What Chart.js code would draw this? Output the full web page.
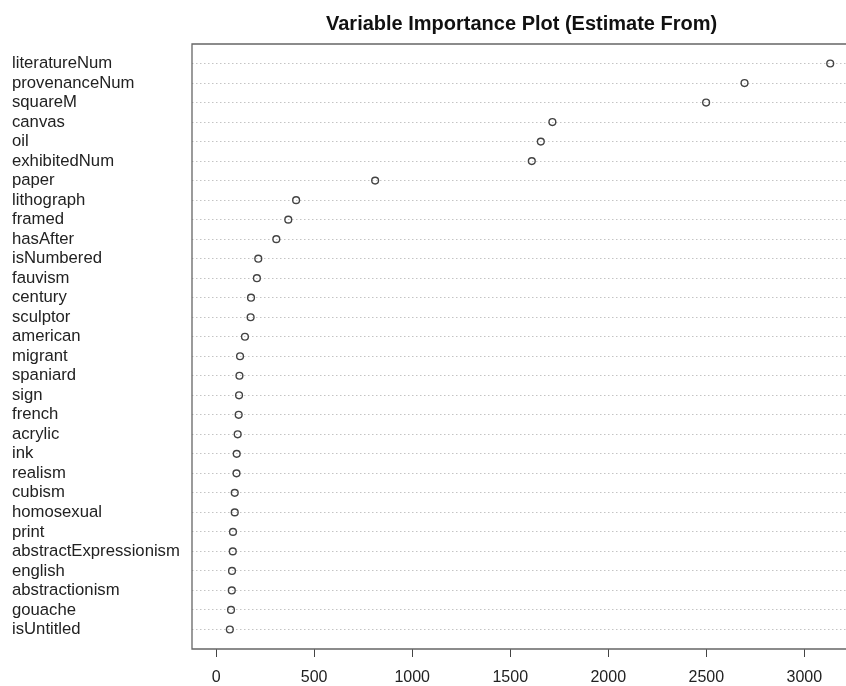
<!DOCTYPE html>
<html>
<head>
<meta charset="utf-8">
<script src="https://cdn.jsdelivr.net/npm/chart.js@4"></script>
<style>
    html, body { margin: 0; padding: 0; background: #fff; overflow: hidden; }
    #wrap { width: 856px; height: 686px; }
</style>
</head>
<body>
<div id="wrap"><canvas id="importanceChart"></canvas></div>
<script>
const chartTitle = "Variable Importance Plot (Estimate From)";

// top to bottom, as in the plot
const variables = [
    "literatureNum", "provenanceNum", "squareM", "canvas", "oil", "exhibitedNum",
    "paper", "lithograph", "framed", "hasAfter", "isNumbered", "fauvism",
    "century", "sculptor", "american", "migrant", "spaniard", "sign", "french",
    "acrylic", "ink", "realism", "cubism", "homosexual", "print",
    "abstractExpressionism", "english", "abstractionism", "gouache", "isUntitled"
];
const importance = [
    3132, 2695, 2499, 1715, 1656, 1610,
    811, 408, 368, 307, 215, 208,
    178, 176, 147, 122, 119, 117, 115,
    110, 105, 104, 95, 95, 86,
    85, 81, 80, 76, 70
];
const xTicks = [0, 500, 1000, 1500, 2000, 2500, 3000];

const nVars = variables.length;
const fontFamily = "'Liberation Sans', Arial, Helvetica, sans-serif";

// R style box (top, left, bottom) and a title centred over the plot region
const boxAndTitle = {
    id: "boxAndTitle",
    afterDraw(chart) {
        const { ctx, chartArea } = chart;
        ctx.save();
        ctx.strokeStyle = "#666";
        ctx.lineWidth = 1.3;
        ctx.beginPath();
        ctx.moveTo(chartArea.right, chartArea.top);
        ctx.lineTo(chartArea.left, chartArea.top);
        ctx.lineTo(chartArea.left, chartArea.bottom);
        ctx.lineTo(chartArea.right, chartArea.bottom);
        ctx.stroke();

        ctx.fillStyle = "#111";
        ctx.font = "bold 20px " + fontFamily;
        ctx.textAlign = "center";
        ctx.textBaseline = "middle";
        ctx.fillText(chartTitle, (chartArea.left + chartArea.right) / 2, 24);
        ctx.restore();
    }
};

new Chart(document.getElementById("importanceChart"), {
    type: "scatter",
    data: {
        datasets: [{
            label: "Importance",
            data: importance.map((v, i) => ({ x: v, y: nVars - i })),
            pointStyle: "circle",
            pointRadius: 3.4,
            pointHoverRadius: 3.4,
            pointBorderWidth: 1.4,
            pointBorderColor: "#444",
            pointBackgroundColor: "rgba(255,255,255,0)"
        }]
    },
    options: {
        responsive: true,
        maintainAspectRatio: false,
        animation: false,
        layout: {
            padding: { top: 44, left: 12, right: 2, bottom: 0 }
        },
        scales: {
            x: {
                type: "linear",
                min: -123,
                max: 3239,
                afterBuildTicks: scale => {
                    scale.ticks = xTicks.map(v => ({ value: v }));
                },
                afterFit: scale => {
                    scale.height = 37;
                },
                grid: {
                    drawOnChartArea: false,
                    drawTicks: true,
                    tickLength: 8,
                    tickColor: "#444",
                    tickWidth: 1
                },
                border: { display: false },
                ticks: {
                    padding: 11,
                    color: "#222",
                    maxRotation: 0,
                    autoSkip: false,
                    font: { family: fontFamily, size: 16 },
                    callback: value => String(value)
                }
            },
            y: {
                type: "linear",
                min: 0,
                max: nVars + 1,
                afterBuildTicks: scale => {
                    scale.ticks = variables.map((_, i) => ({ value: nVars - i }));
                },
                afterFit: scale => {
                    scale.width = 180;
                },
                grid: {
                    drawTicks: false,
                    color: "#c4c4c4",
                    lineWidth: 1
                },
                border: { display: false, dash: [1.5, 2.5] },
                ticks: {
                    crossAlign: "far",
                    padding: 0,
                    autoSkip: false,
                    color: "#222",
                    font: { family: fontFamily, size: 16.7 },
                    callback: value => variables[nVars - value]
                }
            }
        },
        plugins: {
            legend: { display: false },
            tooltip: { enabled: false }
        }
    },
    plugins: [boxAndTitle]
});
</script>
</body>
</html>
